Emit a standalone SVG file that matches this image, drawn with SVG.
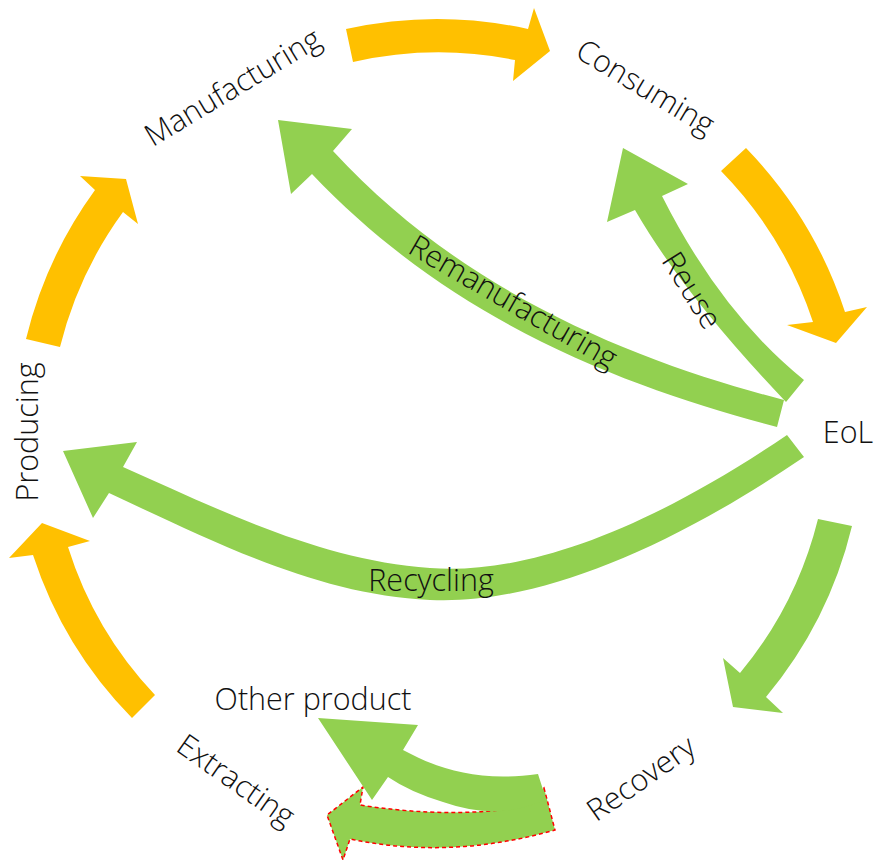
<svg xmlns="http://www.w3.org/2000/svg" width="874" height="861" viewBox="0 0 874 861">
<style>
.y{fill:#FFC000}
.g{fill:#92D050}
.d{fill:#92D050;stroke:#FF0000;stroke-width:1.5;stroke-dasharray:4 3}
text{font-family:"Open Sans","Liberation Sans",sans-serif;font-weight:350;font-size:30.5px;fill:#111}
.m{text-anchor:middle}
</style>
<rect width="874" height="861" fill="#fff"/>
<g id="connectors">
<path class="y" d="M346,29 A421,421 0 0 1 528,29 L534,8 L550,51 L513,81 L515,60 A387,387 0 0 0 353,62 Z"/>
<path class="y" d="M746,148 A426,426 0 0 1 845,312 L867,307 L836,343 L787,325 L813,322 A392,392 0 0 0 721,171 Z"/>
<path class="g" d="M852,526 A421,421 0 0 1 766,697 L783,713 L733,707 L723,658 L740,673 A386,386 0 0 0 818,519 Z"/>
<path class="y" d="M26,339 A422,422 0 0 1 95,190 L80,176 L126,179 L138,224 L123,212 A388,388 0 0 0 60,347 Z"/>
<path class="y" d="M132,718 A416,416 0 0 1 33,555 L9,558 L42,523 L90,541 L68,547 A382,382 0 0 0 155,695 Z"/>
<path class="g" d="M787,435 C640,535 520,575 430,568 C320,560 220,510 123,467 L137,442 L63,451 L93,518 L109,493 C220,545 320,595 430,600 C530,605 660,555 804,457 Z"/>
<path class="g" d="M784,400 C650,365 470,300 333,151 L352,129 L278,120 L291,194 L312,174 C460,330 640,390 777,427 Z"/>
<path class="g" d="M804,380 Q721,313 662,196 L688,184 L623,148 L607,222 L635,210 Q684,295 786,402 Z"/>
<path class="d" d="M544,788 L555,830 Q450,860 350,839 L343,860 L327,815 L363,787 L360,805 Q430,816 490,811 Q525,808 544,788 Z"/>
<path class="g" d="M403,750 C440,770 480,782 538,774 L546,799 Q500,822 443,802 Q410,792 388,777 L372,800 L318,718 L418,725 Z"/>
<text class="m" transform="translate(508,311) rotate(30)">Remanufacturing</text>
<text class="m" transform="translate(683,296) rotate(58)">Reuse</text>
<text class="m" x="431" y="591">Recycling</text>
</g>
<g id="node-manufacturing"><text class="m" transform="translate(238,96) rotate(-31)">Manufacturing</text></g>
<g id="node-consuming"><text class="m" transform="translate(640,96) rotate(31)">Consuming</text></g>
<g id="node-eol"><text class="m" x="848" y="443">EoL</text></g>
<g id="node-recovery"><text class="m" transform="translate(647,787) rotate(-35)">Recovery</text></g>
<g id="node-other-product"><text class="m" x="313" y="710">Other product</text></g>
<g id="node-extracting"><text class="m" transform="translate(230,789) rotate(35)">Extracting</text></g>
<g id="node-producing"><text class="m" transform="translate(38,432) rotate(-90)">Producing</text></g>
</svg>
